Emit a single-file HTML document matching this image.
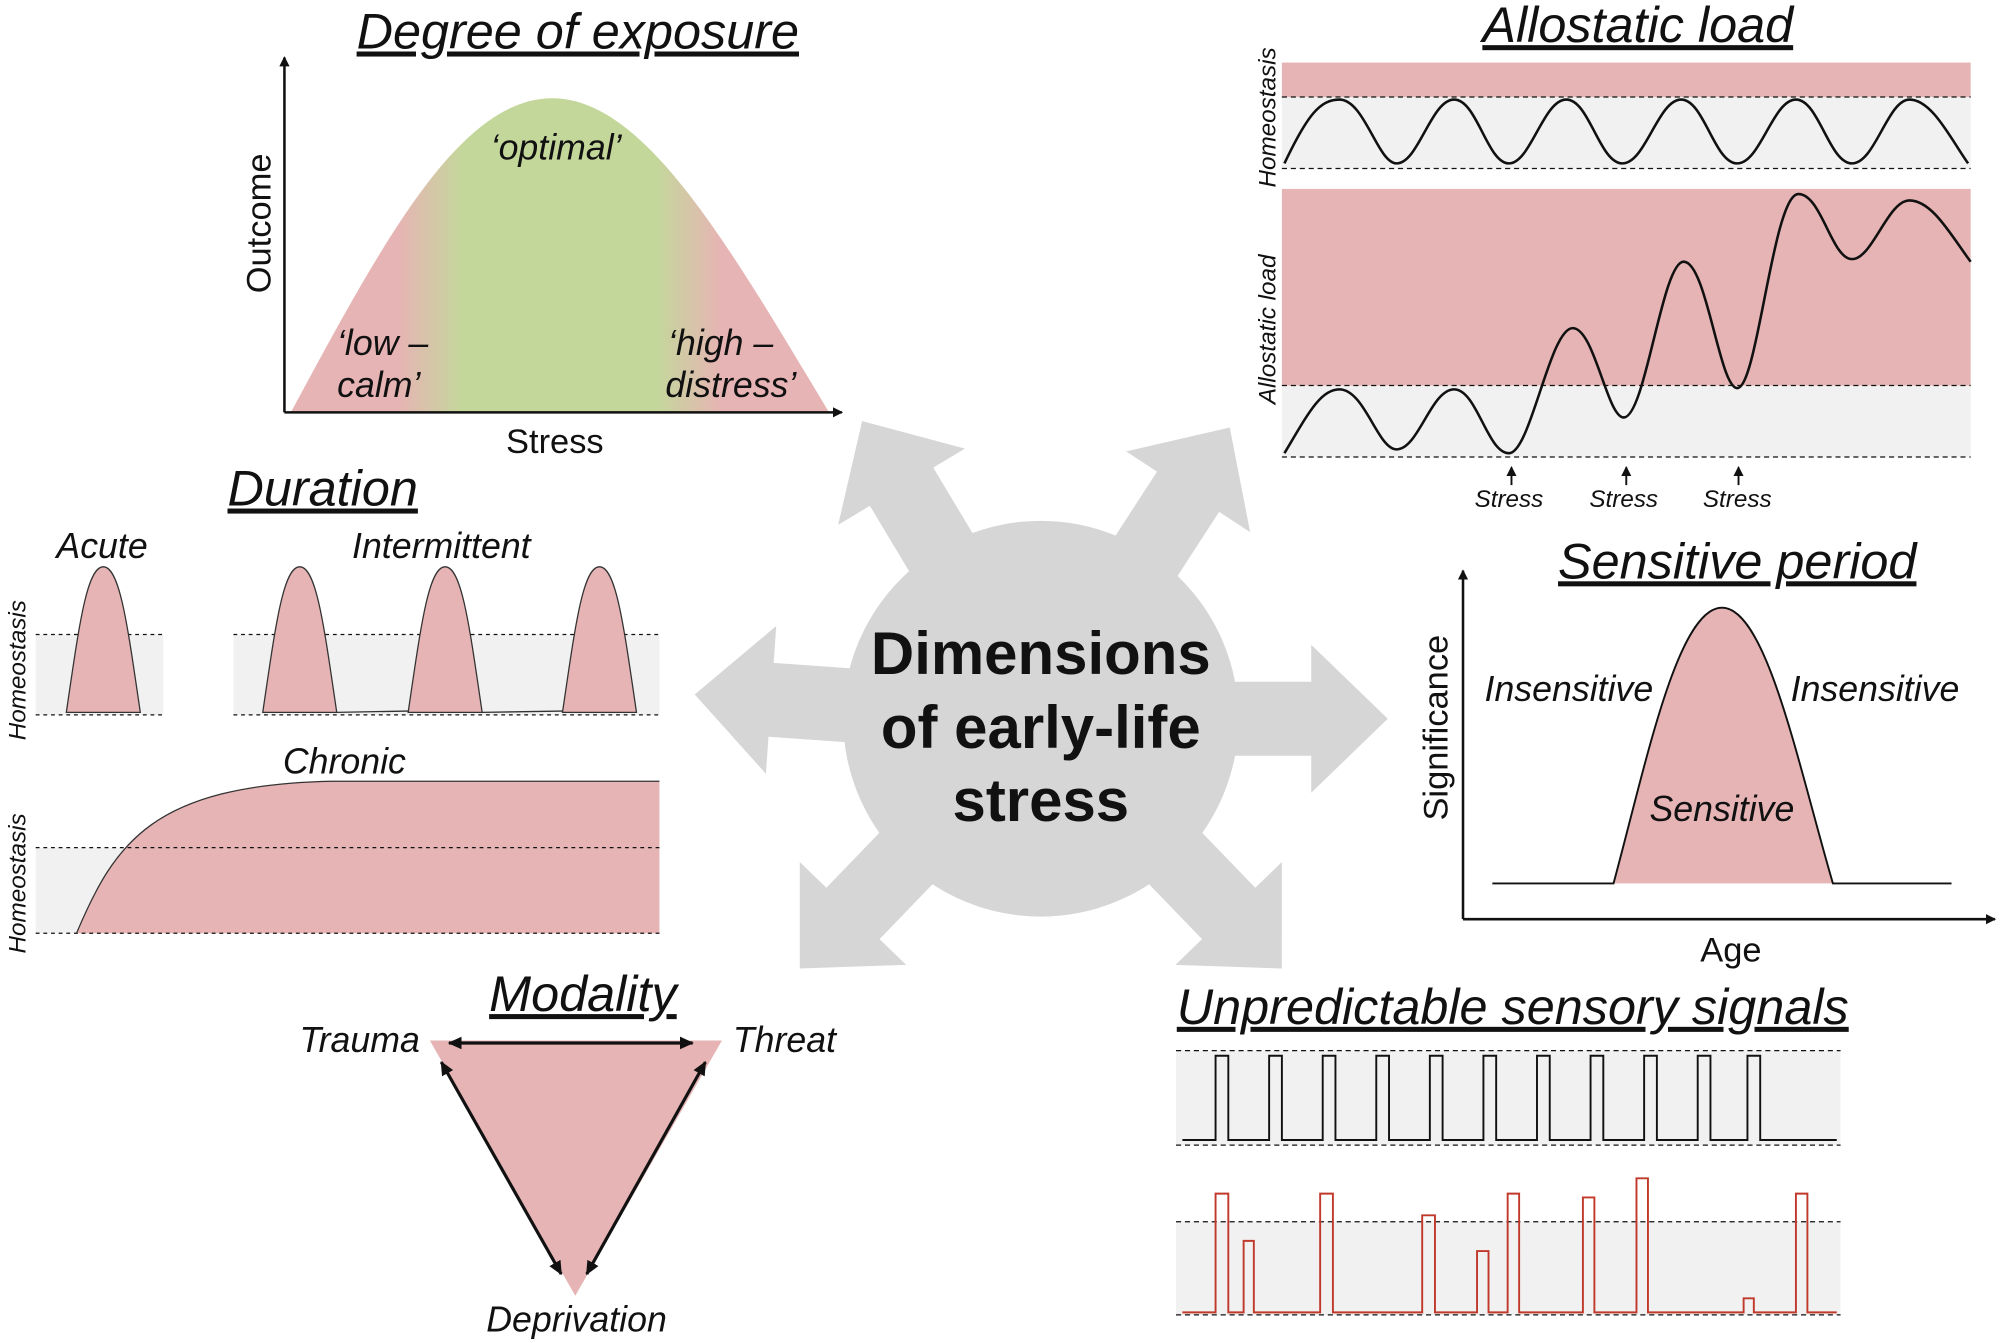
<!DOCTYPE html>
<html><head><meta charset="utf-8"><style>
html,body{margin:0;padding:0;background:#fff;}
svg{display:block}
text{font-family:"Liberation Sans",sans-serif;fill:#111}
.t{font-size:39.5px;font-style:italic;text-decoration:underline;text-anchor:middle}
.l{font-size:28px;font-style:italic;text-anchor:middle}
.s{font-size:19px;font-style:italic;text-anchor:middle}
.a{font-size:27px;text-anchor:middle}
</style></head><body>
<svg width="2000" height="1343" viewBox="0 0 1568 1052" preserveAspectRatio="none" xmlns="http://www.w3.org/2000/svg">
<defs>
<linearGradient id="g" x1="228" x2="650" y1="0" y2="0" gradientUnits="userSpaceOnUse">
<stop offset="0" stop-color="#e6b4b4"/><stop offset="0.2" stop-color="#e6b4b4"/>
<stop offset="0.32" stop-color="#c4d79b"/><stop offset="0.68" stop-color="#c4d79b"/>
<stop offset="0.8" stop-color="#e6b4b4"/><stop offset="1" stop-color="#e6b4b4"/>
</linearGradient>
<marker id="ah" markerWidth="8" markerHeight="8" refX="7" refY="4" orient="auto" markerUnits="userSpaceOnUse"><path d="M0,0 L8,4 L0,8 z" fill="#111"/></marker>
<marker id="ah2" markerWidth="12" markerHeight="12" refX="10" refY="6" orient="auto-start-reverse" markerUnits="userSpaceOnUse"><path d="M0,1 L11,6 L0,11 z" fill="#111"/></marker>
<g id="arr"><polygon points="0,-29 212,-29 212,-58 272,0 212,58 212,29 0,29" fill="#d6d6d6"/></g>
</defs>

<g transform="translate(816,563)">
<use href="#arr" transform="rotate(0)"/>
<use href="#arr" transform="rotate(184)"/>
<use href="#arr" transform="rotate(-57)"/>
<use href="#arr" transform="rotate(-121)"/>
<use href="#arr" transform="rotate(46)"/>
<use href="#arr" transform="rotate(134)"/>
<circle r="155" fill="#d6d6d6"/>
</g>
<text x="816" y="528" style="font-size:47px;font-weight:bold;text-anchor:middle">Dimensions</text>
<text x="816" y="586" style="font-size:47px;font-weight:bold;text-anchor:middle">of early-life</text>
<text x="816" y="643" style="font-size:47px;font-weight:bold;text-anchor:middle">stress</text>

<text class="t" x="453" y="38">Degree of exposure</text>
<path d="M228,323 C300,190 360,77 433,77 C505,77 570,190 650,323 Z" fill="url(#g)"/>
<line x1="223" y1="323" x2="223" y2="45" stroke="#111" stroke-width="2" marker-end="url(#ah)"/>
<line x1="223" y1="323" x2="660" y2="323" stroke="#111" stroke-width="2" marker-end="url(#ah)"/>
<text class="l" x="436" y="125">‘optimal’</text>
<text class="l" x="300" y="278">‘low –</text>
<text class="l" x="297" y="311">calm’</text>
<text class="l" x="565" y="278">‘high –</text>
<text class="l" x="573" y="311">distress’</text>
<text class="a" x="0" y="0" transform="translate(212,175) rotate(-90)">Outcome</text>
<text class="a" x="435" y="355">Stress</text>

<text class="t" x="1284" y="33">Allostatic load</text>
<rect x="1005" y="49" width="540" height="27" fill="#e6b4b4"/>
<rect x="1005" y="76" width="540" height="56" fill="#f1f1f1"/>
<line x1="1005" y1="76" x2="1545" y2="76" stroke="#111" stroke-dasharray="4,3"/>
<line x1="1005" y1="132" x2="1545" y2="132" stroke="#111" stroke-dasharray="4,3"/>
<path d="M1007,128 C1025,90 1035,78 1050,78 C1070,78 1080,128 1095,128 C1112,128 1122,78 1140,78 C1158,78 1166,128 1183,128 C1200,128 1210,78 1228,78 C1246,78 1254,128 1272,128 C1290,128 1300,78 1318,78 C1336,78 1344,128 1362,128 C1380,128 1390,78 1408,78 C1426,78 1434,128 1452,128 C1470,128 1480,78 1497,78 C1515,78 1530,110 1543,128" fill="none" stroke="#111" stroke-width="2"/>
<rect x="1005" y="148" width="540" height="154" fill="#e6b4b4"/>
<rect x="1005" y="302" width="540" height="56" fill="#f1f1f1"/>
<line x1="1005" y1="302" x2="1545" y2="302" stroke="#111" stroke-dasharray="4,3"/>
<line x1="1005" y1="358" x2="1545" y2="358" stroke="#111" stroke-dasharray="4,3"/>
<path d="M1007,355 C1025,325 1035,305 1050,305 C1070,305 1080,352 1095,352 C1112,352 1122,305 1140,305 C1158,305 1166,355 1183,355 C1200,355 1215,257 1233,257 C1250,257 1260,327 1273,327 C1290,327 1303,205 1320,205 C1338,205 1348,304 1362,304 C1378,304 1390,152 1410,152 C1428,152 1436,203 1452,203 C1468,203 1480,157 1497,157 C1515,157 1530,185 1545,205" fill="none" stroke="#111" stroke-width="2"/>
<text class="s" x="0" y="0" transform="translate(1000,92) rotate(-90)">Homeostasis</text>
<text class="s" x="0" y="0" transform="translate(1000,258) rotate(-90)">Allostatic load</text>
<g stroke="#111" stroke-width="1.5">
<line x1="1185" y1="380" x2="1185" y2="366" marker-end="url(#ah)"/>
<line x1="1275" y1="380" x2="1275" y2="366" marker-end="url(#ah)"/>
<line x1="1363" y1="380" x2="1363" y2="366" marker-end="url(#ah)"/>
</g>
<text class="s" x="1183" y="397">Stress</text>
<text class="s" x="1273" y="397">Stress</text>
<text class="s" x="1362" y="397">Stress</text>

<text class="t" x="1362" y="453">Sensitive period</text>
<path d="M1265,692 C1290,600 1315,476 1350,476 C1385,476 1410,600 1437,692 Z" fill="#e6b4b4"/>
<path d="M1170,692 L1265,692 C1290,600 1315,476 1350,476 C1385,476 1410,600 1437,692 L1530,692" fill="none" stroke="#111" stroke-width="1.5"/>
<line x1="1147" y1="720" x2="1147" y2="447" stroke="#111" stroke-width="2" marker-end="url(#ah)"/>
<line x1="1147" y1="720" x2="1564" y2="720" stroke="#111" stroke-width="2" marker-end="url(#ah)"/>
<text class="l" x="1230" y="549">Insensitive</text>
<text class="l" x="1470" y="549">Insensitive</text>
<text class="l" x="1350" y="643">Sensitive</text>
<text class="a" x="0" y="0" transform="translate(1135,570) rotate(-90)">Significance</text>
<text class="a" x="1357" y="753">Age</text>

<text class="t" x="1186" y="802">Unpredictable sensory signals</text>
<rect x="922" y="823" width="521" height="74" fill="#f1f1f1"/>
<line x1="922" y1="823" x2="1443" y2="823" stroke="#111" stroke-dasharray="4,3"/>
<line x1="922" y1="897" x2="1443" y2="897" stroke="#111" stroke-dasharray="4,3"/>
<path d="M927,893 H953 V827 H963 V893 H995 V827 H1005 V893 H1037 V827 H1047 V893 H1079 V827 H1089 V893 H1121 V827 H1131 V893 H1163 V827 H1173 V893 H1205 V827 H1215 V893 H1247 V827 H1257 V893 H1289 V827 H1299 V893 H1331 V827 H1341 V893 H1370 V827 H1380 V893 H1440" fill="none" stroke="#111" stroke-width="1.5"/>
<rect x="922" y="957" width="521" height="73" fill="#f1f1f1"/>
<line x1="922" y1="957" x2="1443" y2="957" stroke="#111" stroke-dasharray="4,3"/>
<line x1="922" y1="1030" x2="1443" y2="1030" stroke="#111" stroke-dasharray="4,3"/>
<path d="M927,1028 H953 V935 H963 V1028 H975 V972 H983 V1028 H1035 V935 H1045 V1028 H1115 V952 H1125 V1028 H1158 V980 H1167 V1028 H1182 V935 H1191 V1028 H1241 V938 H1250 V1028 H1283 V923 H1292 V1028 H1367 V1017 H1375 V1028 H1408 V935 H1417 V1028 H1440" fill="none" stroke="#c0392b" stroke-width="1.5"/>

<text class="t" x="253" y="396">Duration</text>
<text class="l" x="80" y="437">Acute</text>
<text class="l" x="346" y="437">Intermittent</text>
<rect x="28" y="497" width="100" height="63" fill="#f1f1f1"/>
<rect x="183" y="497" width="334" height="63" fill="#f1f1f1"/>
<g stroke="#111" stroke-dasharray="3,3" stroke-width="1">
<line x1="28" y1="497" x2="128" y2="497"/><line x1="28" y1="560" x2="128" y2="560"/>
<line x1="183" y1="497" x2="517" y2="497"/><line x1="183" y1="560" x2="517" y2="560"/>
</g>
<g fill="#e6b4b4" stroke="#333" stroke-width="1">
<path d="M52,558 C62,490 68,444 81,444 C94,444 100,490 110,558 Z"/>
<path d="M206,558 C216,490 222,444 235,444 C248,444 254,490 264,558 Z"/>
<path d="M320,558 C330,490 336,444 349,444 C362,444 368,490 378,558 Z"/>
<path d="M441,558 C451,490 457,444 470,444 C483,444 489,490 499,558 Z"/>
</g>
<line x1="264" y1="558" x2="320" y2="557" stroke="#333"/>
<line x1="378" y1="558" x2="441" y2="557" stroke="#333"/>
<text class="s" x="0" y="0" transform="translate(20,525) rotate(-90)">Homeostasis</text>
<rect x="28" y="664" width="489" height="67" fill="#f1f1f1"/>
<path d="M60,731 C90,660 120,615 260,612 L517,612 L517,731 Z" fill="#e6b4b4"/>
<line x1="28" y1="664" x2="517" y2="664" stroke="#111" stroke-dasharray="3,3"/>
<line x1="28" y1="731" x2="517" y2="731" stroke="#111" stroke-dasharray="3,3"/>
<path d="M60,731 C90,660 120,615 260,612 L517,612" fill="none" stroke="#333"/>
<text class="l" x="270" y="606">Chronic</text>
<text class="s" x="0" y="0" transform="translate(20,692) rotate(-90)">Homeostasis</text>

<text class="t" x="457" y="792">Modality</text>
<polygon points="337,815 566,815 451,1015" fill="#e6b4b4"/>
<g stroke="#111" stroke-width="2.5">
<line x1="352" y1="817" x2="543" y2="817" marker-end="url(#ah2)" marker-start="url(#ah2)"/>
<line x1="346" y1="832" x2="440" y2="998" marker-end="url(#ah2)" marker-start="url(#ah2)"/>
<line x1="553" y1="832" x2="460" y2="998" marker-end="url(#ah2)" marker-start="url(#ah2)"/>
</g>
<text class="l" x="282" y="824">Trauma</text>
<text class="l" x="615" y="824">Threat</text>
<text class="l" x="452" y="1043">Deprivation</text>
</svg>
</body></html>
